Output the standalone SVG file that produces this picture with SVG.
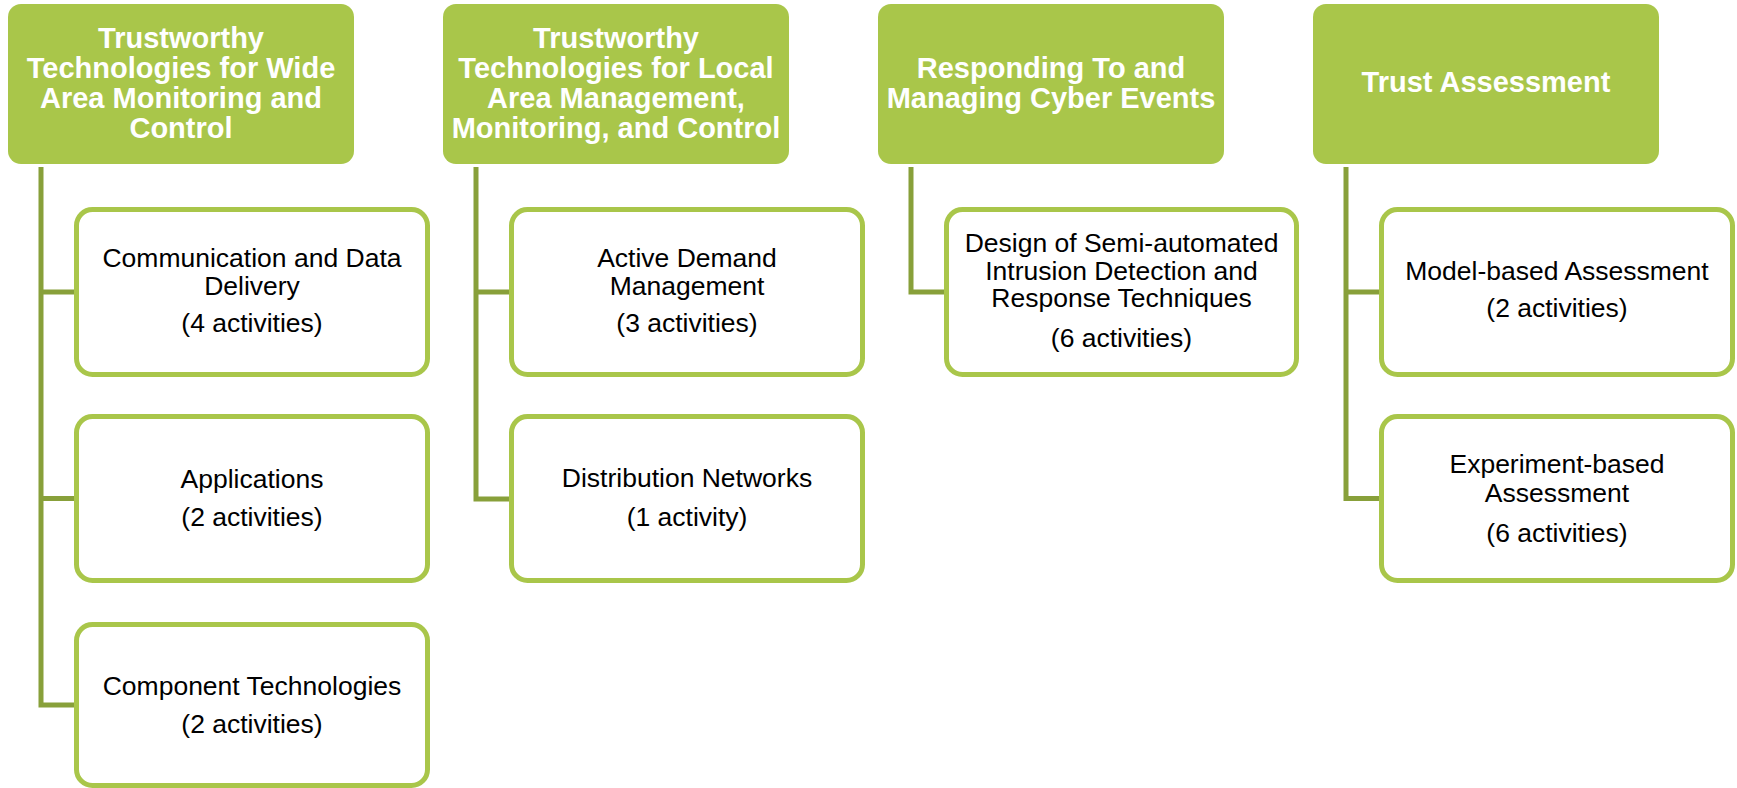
<svg xmlns="http://www.w3.org/2000/svg" width="1737" height="788" viewBox="0 0 1737 788">
<style>
.hdr{fill:#A9C64A;}
.box{fill:#FFFFFF;stroke:#A9C64A;stroke-width:5;}
.conn{fill:none;stroke:#88A03A;stroke-width:5;stroke-linejoin:miter;}
.ht{font-family:"Liberation Sans",Arial,sans-serif;font-weight:bold;font-size:29px;fill:#FFFFFF;text-anchor:middle;}
.bt{font-family:"Liberation Sans",Arial,sans-serif;font-size:26.5px;fill:#000000;text-anchor:middle;}
</style>
<rect width="1737" height="788" fill="#FFFFFF"/>
<g id="connectors">
<path class="conn" d="M41,167 V705 H76 M41,292 H76 M41,498.5 H76"/>
<path class="conn" d="M476,167 V499 H511 M476,292 H511"/>
<path class="conn" d="M911,167 V292 H946"/>
<path class="conn" d="M1346,167 V498.5 H1381 M1346,292 H1381"/>
</g>
<g id="h1">
<rect class="hdr" x="8" y="4" width="346" height="160" rx="13"/>
<text class="ht"><tspan x="181" y="47.7">Trustworthy</tspan><tspan x="181" y="77.7">Technologies for Wide</tspan><tspan x="181" y="108">Area Monitoring and</tspan><tspan x="181" y="138">Control</tspan></text>
</g>
<g id="h2">
<rect class="hdr" x="443" y="4" width="346" height="160" rx="13"/>
<text class="ht"><tspan x="616" y="47.7">Trustworthy</tspan><tspan x="616" y="77.7">Technologies for Local</tspan><tspan x="616" y="108">Area Management,</tspan><tspan x="616" y="138">Monitoring, and Control</tspan></text>
</g>
<g id="h3">
<rect class="hdr" x="878" y="4" width="346" height="160" rx="13"/>
<text class="ht"><tspan x="1051" y="77.7">Responding To and</tspan><tspan x="1051" y="108">Managing Cyber Events</tspan></text>
</g>
<g id="h4">
<rect class="hdr" x="1313" y="4" width="346" height="160" rx="13"/>
<text class="ht"><tspan x="1486" y="92.3">Trust Assessment</tspan></text>
</g>
<g id="c1a">
<rect class="box" x="76.5" y="209.5" width="351" height="165" rx="16"/>
<text class="bt"><tspan x="252" y="267">Communication and Data</tspan><tspan x="252" y="295">Delivery</tspan><tspan x="252" y="332">(4 activities)</tspan></text>
</g>
<g id="c1b">
<rect class="box" x="76.5" y="416.5" width="351" height="164" rx="16"/>
<text class="bt"><tspan x="252" y="488">Applications</tspan><tspan x="252" y="526">(2 activities)</tspan></text>
</g>
<g id="c1c">
<rect class="box" x="76.5" y="624.5" width="351" height="161" rx="16"/>
<text class="bt"><tspan x="252" y="695">Component Technologies</tspan><tspan x="252" y="733">(2 activities)</tspan></text>
</g>
<g id="c2a">
<rect class="box" x="511.5" y="209.5" width="351" height="165" rx="16"/>
<text class="bt"><tspan x="687" y="267">Active Demand</tspan><tspan x="687" y="295">Management</tspan><tspan x="687" y="332">(3 activities)</tspan></text>
</g>
<g id="c2b">
<rect class="box" x="511.5" y="416.5" width="351" height="164" rx="16"/>
<text class="bt"><tspan x="687" y="487">Distribution Networks</tspan><tspan x="687" y="526">(1 activity)</tspan></text>
</g>
<g id="c3a">
<rect class="box" x="946.5" y="209.5" width="350" height="165" rx="16"/>
<text class="bt"><tspan x="1121.5" y="252">Design of Semi-automated</tspan><tspan x="1121.5" y="280">Intrusion Detection and</tspan><tspan x="1121.5" y="307">Response Techniques</tspan><tspan x="1121.5" y="347">(6 activities)</tspan></text>
</g>
<g id="c4a">
<rect class="box" x="1381.5" y="209.5" width="351" height="165" rx="16"/>
<text class="bt"><tspan x="1557" y="280">Model-based Assessment</tspan><tspan x="1557" y="317">(2 activities)</tspan></text>
</g>
<g id="c4b">
<rect class="box" x="1381.5" y="416.5" width="351" height="164" rx="16"/>
<text class="bt"><tspan x="1557" y="473">Experiment-based</tspan><tspan x="1557" y="502">Assessment</tspan><tspan x="1557" y="542">(6 activities)</tspan></text>
</g>
</svg>
